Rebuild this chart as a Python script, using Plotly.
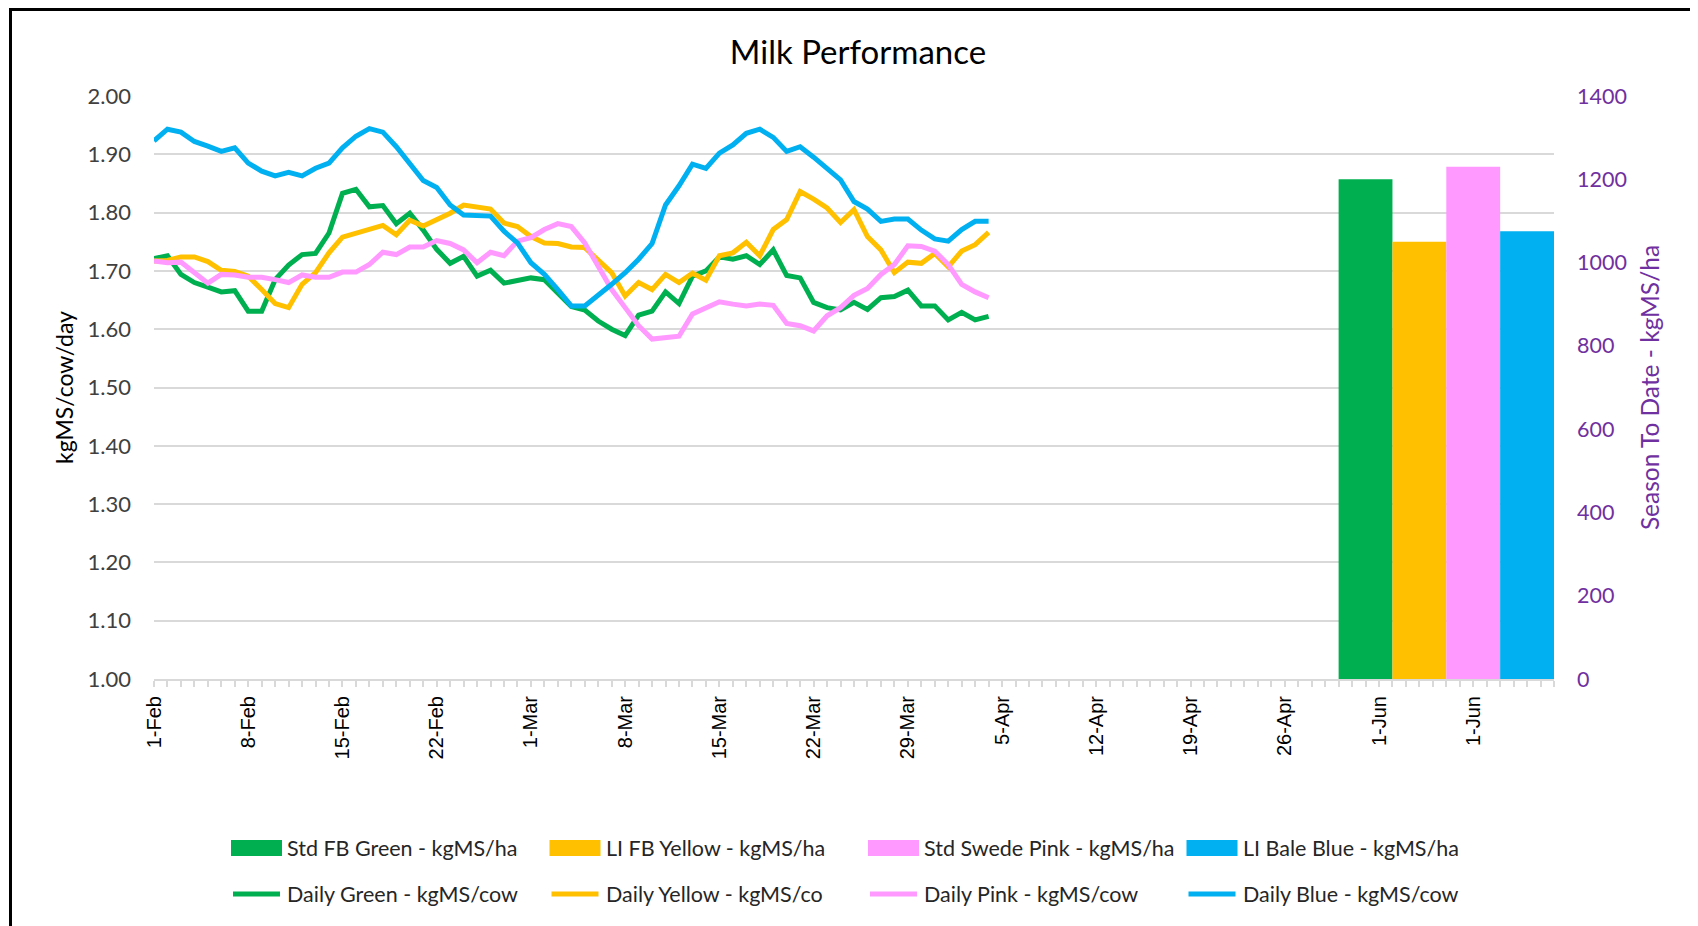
import plotly.graph_objects as go

# ---------------- data ----------------
tick_labels = ["1-Feb", "8-Feb", "15-Feb", "22-Feb", "1-Mar", "8-Mar", "15-Mar",
               "22-Mar", "29-Mar", "5-Apr", "12-Apr", "19-Apr", "26-Apr", "1-Jun", "1-Jun"]

daily_green = [1.721, 1.726, 1.694, 1.680, 1.672, 1.664, 1.666, 1.631, 1.631, 1.685,
               1.710, 1.728, 1.730, 1.765, 1.833, 1.840, 1.810, 1.812, 1.781, 1.799,
               1.770, 1.737, 1.713, 1.725, 1.691, 1.701, 1.679, 1.683, 1.688, 1.685,
               1.663, 1.639, 1.633, 1.614, 1.600, 1.589, 1.624, 1.631, 1.664, 1.644,
               1.691, 1.700, 1.724, 1.720, 1.726, 1.711, 1.736, 1.692, 1.688, 1.646,
               1.637, 1.633, 1.646, 1.634, 1.654, 1.656, 1.667, 1.640, 1.640, 1.616,
               1.629, 1.616, 1.622]
daily_yellow = [1.717, 1.718, 1.724, 1.724, 1.716, 1.701, 1.699, 1.691, 1.668, 1.644,
                1.637, 1.677, 1.697, 1.731, 1.758, 1.765, 1.771, 1.778, 1.762, 1.787,
                1.777, 1.788, 1.799, 1.813, 1.810, 1.806, 1.782, 1.776, 1.759, 1.748,
                1.747, 1.741, 1.740, 1.717, 1.697, 1.657, 1.680, 1.668, 1.694, 1.680,
                1.696, 1.684, 1.726, 1.731, 1.749, 1.726, 1.771, 1.788, 1.836, 1.823,
                1.808, 1.783, 1.805, 1.759, 1.736, 1.697, 1.715, 1.713, 1.730, 1.707,
                1.734, 1.745, 1.766]
daily_pink = [1.717, 1.714, 1.715, 1.697, 1.679, 1.694, 1.693, 1.689, 1.689, 1.685,
              1.680, 1.693, 1.689, 1.689, 1.698, 1.698, 1.711, 1.732, 1.728, 1.741,
              1.741, 1.752, 1.747, 1.736, 1.714, 1.732, 1.726, 1.751, 1.757, 1.771,
              1.781, 1.776, 1.748, 1.708, 1.668, 1.637, 1.606, 1.583, 1.586, 1.588,
              1.626, 1.636, 1.647, 1.643, 1.640, 1.643, 1.641, 1.610, 1.606, 1.597,
              1.623, 1.637, 1.658, 1.670, 1.694, 1.711, 1.743, 1.742, 1.734, 1.711,
              1.677, 1.664, 1.654]
daily_blue = [1.923, 1.943, 1.938, 1.922, 1.914, 1.905, 1.911, 1.885, 1.871, 1.863,
              1.869, 1.863, 1.876, 1.885, 1.911, 1.931, 1.944, 1.938, 1.913, 1.884,
              1.855, 1.843, 1.813, 1.796, 1.794, 1.794, 1.768, 1.748, 1.714, 1.694,
              1.668, 1.640, 1.640, 1.658, 1.677, 1.697, 1.720, 1.747, 1.813, 1.846,
              1.883, 1.876, 1.902, 1.916, 1.936, 1.943, 1.929, 1.905, 1.913, 1.895,
              1.876, 1.856, 1.819, 1.806, 1.785, 1.789, 1.789, 1.770, 1.755, 1.751,
              1.771, 1.785, 1.785]

bar_names = ["Std FB Green - kgMS/ha", "LI FB Yellow - kgMS/ha",
             "Std Swede Pink - kgMS/ha", "LI Bale Blue - kgMS/ha"]
season_to_date = [1200, 1050, 1230, 1075]

line_names = ["Daily Green - kgMS/cow", "Daily Yellow - kgMS/co",
              "Daily Pink - kgMS/cow", "Daily Blue - kgMS/cow"]

# ---------------- style / layout constants ----------------
colors = ["#00B050", "#FFC000", "#FF99FF", "#00B0F0"]
PURPLE = "#7030A0"
GRID = "#D9D9D9"
FONT = "Lato"
PAGE_OFF = 8                       # default body margin of the html page
W, H = 1698 - PAGE_OFF, 926 - PAGE_OFF
# plot area in page pixels
P_LEFT, P_RIGHT, P_TOP, P_BOTTOM = 154, 1554, 96, 679
ML = P_LEFT - PAGE_OFF
MT = P_TOP - PAGE_OFF
MR = W - (P_RIGHT - PAGE_OFF)
MB = H - (P_BOTTOM - PAGE_OFF)
DAYS_PER_TICK = 7
AXIS_END = 104          # last day shown on the x axis
BAR_WIDTH = 4           # days per season-to-date bar

plot_w = P_RIGHT - P_LEFT
plot_h = P_BOTTOM - P_TOP


def px_x(px):
    """page pixel x -> paper coordinate"""
    return (px - P_LEFT) / plot_w


def px_y(py):
    """page pixel y -> paper coordinate"""
    return (P_BOTTOM - py) / plot_h


daily_series = [daily_green, daily_yellow, daily_pink, daily_blue]

fig = go.Figure()

for name, vals, col in zip(line_names, daily_series, colors):
    fig.add_trace(go.Scatter(
        x=list(range(len(vals))), y=vals, mode="lines", name=name,
        line=dict(color=col, width=5), showlegend=False))

n_bars = len(season_to_date)
for i, (name, val, col) in enumerate(zip(bar_names, season_to_date, colors)):
    centre = AXIS_END - BAR_WIDTH * (n_bars - i - 0.5)
    fig.add_trace(go.Bar(
        x=[centre], y=[val], width=[BAR_WIDTH], name=name, yaxis="y2",
        marker=dict(color=col, line=dict(width=0)), showlegend=False))

# ---------------- manual legend ----------------
shapes = []
annotations = []
leg_x0 = 231
leg_col = 318.5
sw_w = 51
row_y = [848, 894]
leg_font = dict(family=FONT, size=21.5, color="#262626")
for i in range(4):
    x0 = leg_x0 + i * leg_col
    shapes.append(dict(type="rect", xref="paper", yref="paper",
                       x0=px_x(x0), x1=px_x(x0 + sw_w),
                       y0=px_y(row_y[0] + 8), y1=px_y(row_y[0] - 8),
                       fillcolor=colors[i], line=dict(width=0)))
    annotations.append(dict(xref="paper", yref="paper", x=px_x(x0 + sw_w + 3),
                            y=px_y(row_y[0]), text=bar_names[i], showarrow=False,
                            xanchor="left", yanchor="middle", font=leg_font))
    shapes.append(dict(type="line", xref="paper", yref="paper",
                       x0=px_x(x0 + 2), x1=px_x(x0 + sw_w - 2),
                       y0=px_y(row_y[1]), y1=px_y(row_y[1]),
                       line=dict(color=colors[i], width=5)))
    annotations.append(dict(xref="paper", yref="paper", x=px_x(x0 + sw_w + 3),
                            y=px_y(row_y[1]), text=line_names[i], showarrow=False,
                            xanchor="left", yanchor="middle", font=leg_font))

# outer chart border (top and left edges visible in the picture)
shapes.append(dict(type="line", xref="paper", yref="paper",
                   x0=px_x(9), x1=px_x(1720), y0=px_y(9.5), y1=px_y(9.5),
                   line=dict(color="black", width=3), layer="above"))
shapes.append(dict(type="line", xref="paper", yref="paper",
                   x0=px_x(10.5), x1=px_x(10.5), y0=px_y(8), y1=px_y(960),
                   line=dict(color="black", width=3), layer="above"))

fig.update_layout(
    width=W, height=H,
    margin=dict(l=ML, r=MR, t=MT, b=MB),
    paper_bgcolor="white", plot_bgcolor="white",
    barmode="overlay",
    showlegend=False,
    title=dict(text="Milk Performance", x=(858 - PAGE_OFF) / W, xref="container",
               xanchor="center", y=1 - (52 - PAGE_OFF) / H, yref="container",
               yanchor="middle",
               font=dict(family=FONT, size=33, color="black")),
    xaxis=dict(
        range=[0, AXIS_END],
        tickmode="array",
        tickvals=[i * DAYS_PER_TICK for i in range(len(tick_labels))],
        ticktext=tick_labels,
        tickangle=-90,
        ticks="outside", ticklen=6, tickcolor=GRID, tickwidth=1.5,
        minor=dict(tickmode="linear", tick0=0, dtick=1, ticks="outside",
                   ticklen=6, tickcolor=GRID, tickwidth=1.5, showgrid=False),
        showline=True, linecolor=GRID, linewidth=2,
        showgrid=False, zeroline=False,
        tickfont=dict(family="Liberation Sans", size=20, color="black"),
        ticklabelstandoff=1,
    ),
    yaxis=dict(
        range=[1.0, 2.0], dtick=0.1, tickformat=".2f",
        showgrid=True, gridcolor=GRID, gridwidth=1.5,
        zeroline=False, showline=False, ticks="",
        tickfont=dict(family=FONT, size=22, color="#404040"),
        ticklabelstandoff=22,
        title=dict(text="kgMS/cow/day", standoff=7,
                   font=dict(family=FONT, size=23, color="black")),
    ),
    yaxis2=dict(
        range=[0, 1400], dtick=200, overlaying="y", side="right",
        showgrid=False, zeroline=False, showline=False, ticks="",
        tickfont=dict(family=FONT, size=21.5, color=PURPLE),
        ticklabelstandoff=22,
        title=dict(text="Season To Date - kgMS/ha", standoff=15,
                   font=dict(family=FONT, size=24.5, color=PURPLE)),
    ),
    shapes=shapes,
    annotations=annotations,
)

fig.write_html("out.html")
